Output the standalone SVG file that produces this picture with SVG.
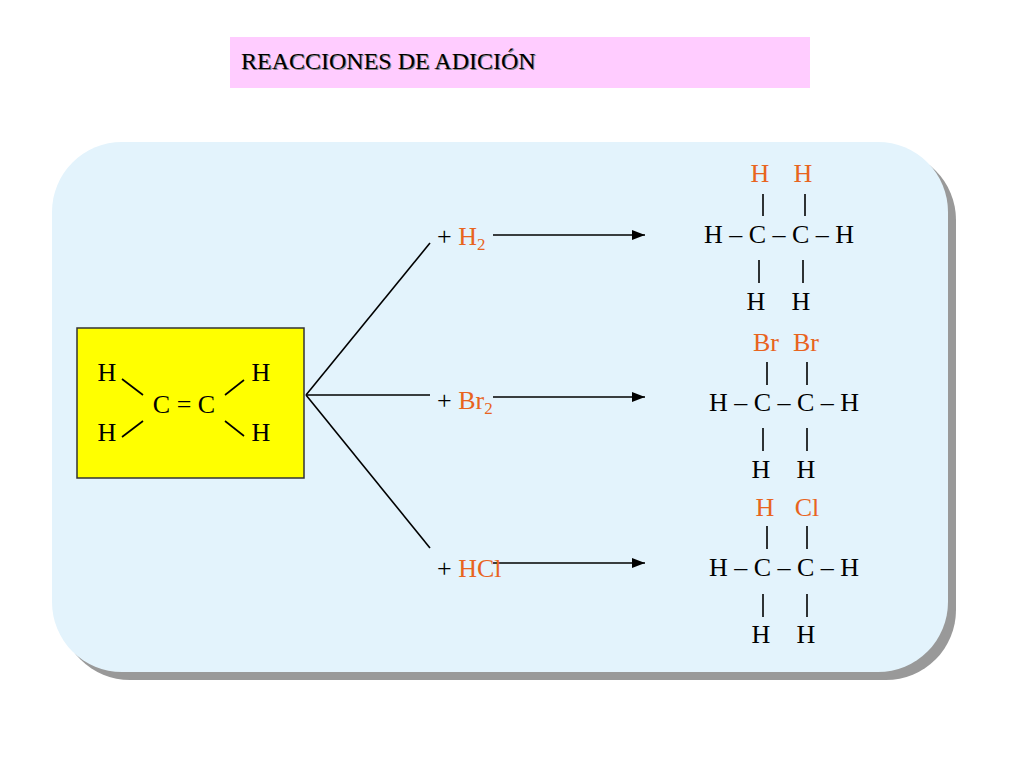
<svg xmlns="http://www.w3.org/2000/svg" width="1024" height="768" viewBox="0 0 1024 768">
<defs>
<style>
text{font-family:"Liberation Serif","Times New Roman",serif;font-size:26px;fill:#000}
.o{fill:#E8641E}
.m{text-anchor:middle}
line{stroke:#000;stroke-width:1.6}
</style>
<marker id="ah" viewBox="0 0 10 10" refX="10" refY="5" markerWidth="13" markerHeight="10" orient="auto" markerUnits="userSpaceOnUse" preserveAspectRatio="none"><path d="M0,0L10,5L0,10z" fill="#000"/></marker>
</defs>
<rect width="1024" height="768" fill="#fff"/>
<g id="title"><rect x="230" y="37" width="580" height="51" fill="#FFCCFF"/><text x="241" y="69" style="fill:#888;font-size:24px" dx="1" dy="1">REACCIONES DE ADICIÓN</text><text x="241" y="69" style="font-size:24px">REACCIONES DE ADICIÓN</text></g>
<g id="panel"><rect x="60" y="150" width="896" height="530" rx="70" fill="#999"/><rect x="52" y="142" width="896" height="530" rx="70" fill="#E3F3FC"/></g>
<g id="ethene"><rect x="77" y="328" width="227" height="150" fill="#FFFF00" stroke="#333" stroke-width="1.5"/>
<text x="107" y="381" class="m">H</text><text x="261" y="381" class="m">H</text><text x="107" y="441" class="m">H</text><text x="261" y="441" class="m">H</text>
<text x="184" y="413" class="m">C = C</text>
<line x1="122" y1="379" x2="143" y2="395"/><line x1="122" y1="437" x2="143" y2="421"/><line x1="225" y1="395" x2="244" y2="380"/><line x1="225" y1="421" x2="244" y2="436"/></g>
<g id="connectors">
<line x1="306" y1="395" x2="430" y2="243"/><line x1="306" y1="395" x2="430" y2="395"/><line x1="306" y1="395" x2="430" y2="548"/>
<line x1="493" y1="235" x2="645" y2="235" marker-end="url(#ah)"/><line x1="493" y1="397" x2="645" y2="397" marker-end="url(#ah)"/><line x1="493" y1="563" x2="645" y2="563" marker-end="url(#ah)"/>
</g>
<g id="reagents">
<text x="437" y="245">+ <tspan class="o">H<tspan font-size="17" dy="5">2</tspan></tspan></text>
<text x="437" y="409">+ <tspan class="o">Br<tspan font-size="17" dy="5">2</tspan></tspan></text>
<text x="437" y="577">+ <tspan class="o">HCl</tspan></text>
</g>
<g id="p1"><text x="760" y="182" class="m o">H</text><text x="803" y="182" class="m o">H</text>
<line x1="763" y1="194" x2="763" y2="216"/><line x1="805" y1="194" x2="805" y2="216"/>
<text x="779" y="243" class="m">H – C – C – H</text>
<line x1="759" y1="260" x2="759" y2="283"/><line x1="803" y1="260" x2="803" y2="283"/>
<text x="756" y="310" class="m">H</text><text x="801" y="310" class="m">H</text></g>
<g id="p2"><text x="766" y="351" class="m o">Br</text><text x="806" y="351" class="m o">Br</text>
<line x1="767" y1="362" x2="767" y2="385"/><line x1="807" y1="362" x2="807" y2="385"/>
<text x="784" y="411" class="m">H – C – C – H</text>
<line x1="763" y1="428" x2="763" y2="451"/><line x1="807" y1="428" x2="807" y2="451"/>
<text x="761" y="478" class="m">H</text><text x="806" y="478" class="m">H</text></g>
<g id="p3"><text x="765" y="516" class="m o">H</text><text x="807" y="516" class="m o">Cl</text>
<line x1="767" y1="526" x2="767" y2="549"/><line x1="807" y1="526" x2="807" y2="549"/>
<text x="784" y="576" class="m">H – C – C – H</text>
<line x1="763" y1="594" x2="763" y2="617"/><line x1="807" y1="594" x2="807" y2="617"/>
<text x="761" y="643" class="m">H</text><text x="806" y="643" class="m">H</text></g>
</svg>
